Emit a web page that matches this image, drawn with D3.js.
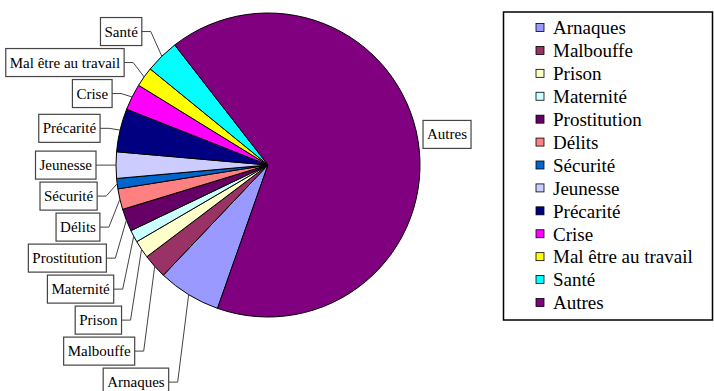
<!DOCTYPE html>
<html>
<head>
<meta charset="utf-8">
<script src="https://cdn.jsdelivr.net/npm/d3@7"></script>
<style>
  body { margin: 0; background: #fff; }
</style>
</head>
<body>
<svg id="chart" width="714" height="391"></svg>
<script>
// share of each theme, in percent
const categories = ["Arnaques", "Malbouffe", "Prison", "Maternité", "Prostitution", "Délits",
  "Sécurité", "Jeunesse", "Précarité", "Crise", "Mal être au travail", "Santé", "Autres"];
const values = [6.7, 2.6, 1.9, 1.3, 2.4, 2.2, 1.1, 2.8, 4.6, 2.8, 2.1, 3.6, 65.9];
const colors = ["#9999ff", "#993366", "#ffffcc", "#ccffff", "#660066", "#ff8080",
  "#0066cc", "#ccccff", "#000080", "#ff00ff", "#ffff00", "#00ffff", "#800080"];

const FONT = "Liberation Serif";
const cx = 268, cy = 165, r = 152;
const start = 199.4 * Math.PI / 180;

const svg = d3.select("#chart");
const data = categories.map((c, i) => ({ name: c, value: values[i], color: colors[i] }));

const pie = d3.pie().sort(null).value(d => d.value)
  .startAngle(start).endAngle(start + 2 * Math.PI);
const arcs = pie(data);
const arc = d3.arc().innerRadius(0).outerRadius(r);

const g = svg.append("g").attr("transform", `translate(${cx},${cy})`);

// leaders go under the labels but above the pie
const leaderG = g.append("g");
g.insert("g", ":first-child").selectAll("path")
  .data(arcs)
  .join("path")
    .attr("d", arc)
    .attr("fill", d => d.data.color)
    .attr("stroke", "#000")
    .attr("stroke-width", 1);

// anchor points on the rim, then spread the left labels vertically
arcs.forEach(d => {
  const a = (d.startAngle + d.endAngle) / 2;
  d.ax = Math.sin(a) * r;
  d.ay = -Math.cos(a) * r;
  d.ty = -Math.cos(a) * r * 1.05;
  d.left = Math.sin(a) < 0;
  d.y = d.left ? d.ty : d.ty - 5;
});

const gap = 31;
const leftSide = arcs.filter(d => d.left).sort((a, b) => a.ty - b.ty);
let pivot = d3.minIndex(leftSide, d => Math.abs(d.ty));
for (let i = pivot - 1; i >= 0; i--) leftSide[i].y = Math.min(leftSide[i].ty, leftSide[i + 1].y - gap);
for (let i = pivot + 1; i < leftSide.length; i++) leftSide[i].y = Math.max(leftSide[i].ty, leftSide[i - 1].y + gap);

const labelG = g.append("g");
arcs.forEach(d => {
  const lg = labelG.append("g");
  const rect = lg.append("rect");
  const t = lg.append("text")
    .attr("font-family", FONT)
    .attr("font-size", 15)
    .attr("dy", "0.33em")
    .attr("y", d.y)
    .text(d.data.name);
  const w = t.node().getComputedTextLength() + 8;
  let x0, edge;
  if (d.left) {
    edge = d.ax - 20;
    x0 = edge - w;
    leaderG.append("polyline")
      .attr("points", [[edge, d.y], [edge + 9, d.y], [d.ax, d.ay]].join(" "));
  } else {
    edge = d.ax + 5;
    x0 = edge;
  }
  t.attr("x", x0 + 4);
  rect.attr("x", x0).attr("y", d.y - 14).attr("width", w).attr("height", 28)
    .attr("fill", "#fff").attr("stroke", "#444").attr("stroke-width", 1.2);
});
leaderG.selectAll("polyline").attr("fill", "none").attr("stroke", "#444").attr("stroke-width", 1);

// legend
const legend = svg.append("g");
legend.append("rect")
  .attr("x", 503.5).attr("y", 12).attr("width", 209).attr("height", 308)
  .attr("fill", "#fff").attr("stroke", "#000").attr("stroke-width", 1.5);

const rowY = d3.scalePoint().domain(categories).range([28, 303]);
const rows = legend.selectAll("g.row")
  .data(data)
  .join("g")
    .attr("class", "row")
    .attr("transform", d => `translate(536,${rowY(d.name)})`);
rows.append("rect")
  .attr("x", 0).attr("y", -4.5).attr("width", 8).attr("height", 8)
  .attr("fill", d => d.color).attr("stroke", "#000").attr("stroke-width", 0.8);
rows.append("text")
  .attr("x", 17).attr("dy", "0.33em")
  .attr("font-family", FONT)
  .attr("font-size", 19)
  .text(d => d.name);
</script>
</body>
</html>
